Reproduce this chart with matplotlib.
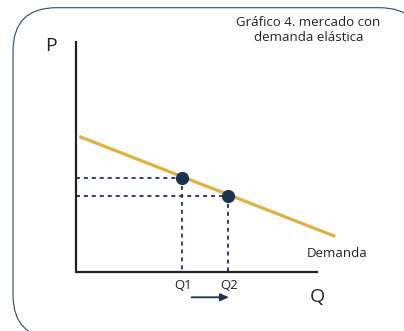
import matplotlib
matplotlib.use("Agg")
import matplotlib.pyplot as plt
from matplotlib.patches import FancyBboxPatch

plt.rcParams['font.family'] = ['Open Sans', 'DejaVu Sans']

# demand curve end points (Q, P)
demanda_q = [0.2, 10.7]
demanda_p = [5.6, 1.5]

# the two equilibrium points
puntos_q = [4.4, 6.3]
puntos_p = [3.9, 3.15]
etiquetas_q = ['Q1', 'Q2']

titulo = 'Gráfico 4. mercado con\ndemanda elástica'

navy = '#1c3350'
gold = '#e0b040'

fig = plt.figure(figsize=(4.04, 3.31), dpi=100)
ax = fig.add_axes([0, 0, 1, 1])
ax.set_xlim(-3.15, 13.61)
ax.set_ylim(-2.45, 11.29)
ax.axis('off')

# rounded frame
caja = FancyBboxPatch((-2.61, -2.75), 17.0, 13.72,
                      boxstyle='round,pad=0,rounding_size=1.8',
                      fc='white', ec='#2b4a6b', lw=0.8, zorder=0)
ax.add_patch(caja)

# axes
ax.plot([0, 0, 10], [9.55, 0, 0], color='#222222', lw=1.6,
        solid_joinstyle='miter', zorder=2)

# dashed guides
for q, p in zip(puntos_q, puntos_p):
    ax.plot([0, q], [p, p], color=navy, lw=1.3, ls=(0, (2.2, 2.2)), zorder=1)
    ax.plot([q, q], [p, 0], color=navy, lw=1.3, ls=(0, (2.2, 2.2)), zorder=1)

ax.plot(demanda_q, demanda_p, color=gold, lw=2.3, zorder=3)
ax.plot(puntos_q, puntos_p, 'o', color=navy, ms=8.5, zorder=4)

for q, lab in zip(puntos_q, etiquetas_q):
    ax.text(q + 0.05, -0.55, lab, ha='center', va='center', fontsize=9.5, color='#222222')

ax.annotate('', xy=(6.35, -1.05), xytext=(4.8, -1.05),
            arrowprops=dict(arrowstyle='-|>,head_length=0.5,head_width=0.22',
                            color=navy, lw=1.3, shrinkA=0, shrinkB=0))

ax.text(10.0, -1.05, 'Q', ha='center', va='center', fontsize=14, color='#222222')
ax.text(-1.05, 9.4, 'P', ha='center', va='center', fontsize=14, color='#222222')
ax.text(10.85, 0.78, 'Demanda', ha='center', va='center', fontsize=9.5, color='#222222')
ax.text(9.65, 10.05, titulo, ha='center', va='center', fontsize=9.5,
        color='#222222', linespacing=1.15)

fig.savefig('out.png', dpi=100)
